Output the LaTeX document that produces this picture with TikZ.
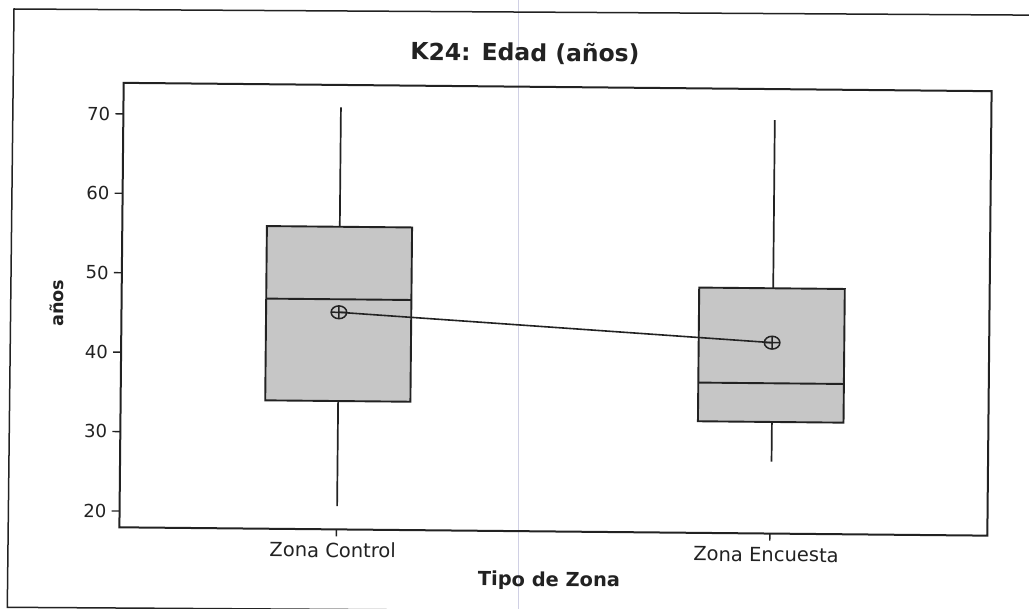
\documentclass[tikz,border=0pt]{standalone}
\usepackage{fontspec}
\setmainfont{DejaVu Sans}
\usetikzlibrary{calc}
\definecolor{boxgray}{RGB}{198,198,198}
\definecolor{ink}{RGB}{34,34,34}
\definecolor{scanline}{RGB}{208,208,228}
\begin{document}
\begin{tikzpicture}[x=1pt,y=-1pt,
  declare function={vy(\v)=674.1-7.944*\v;},
  frame/.style={draw=ink, line width=2pt},
  outerframe/.style={draw=ink, line width=1.5pt},
  whisk/.style={draw=ink, line width=1.7pt},
  boxsty/.style={draw=ink, fill=boxgray, line width=1.9pt},
  medsty/.style={draw=ink, line width=1.9pt},
  meanline/.style={draw=ink, line width=1.6pt},
  meanmk/.style={draw=ink, line width=1.5pt},
  ticksty/.style={draw=ink, line width=1.4pt},
  ticklab/.style={font=\fontsize{18}{20}\selectfont, text=ink, anchor=east, inner sep=0pt},
  catlab/.style={font=\fontsize{19.5}{22}\selectfont, text=ink, anchor=base, inner sep=0pt},
  axtitle/.style={font=\bfseries\fontsize{17.6}{20}\selectfont, text=ink, inner sep=0pt},
  maintitle/.style={font=\bfseries\fontsize{23.5}{26}\selectfont, text=ink, anchor=base, inner sep=0pt}]
\useasboundingbox (0,0) rectangle (1029,609);
\clip (0,0) rectangle (1029,609);
\fill[white] (0,0) rectangle (1029,609);
% faint scan fold
\draw[scanline, line width=1pt] (518.8,0) -- (518.8,609);
% outer frame (extends past the right and bottom edges)
\draw[outerframe] (1045,15.2) -- (14,9) -- (7.3,607.3) -- (1045,614);
\begin{scope}[rotate around={-0.55:(555.5,309.25)}, transform shape]
  % title
  \node[maintitle] (title) at (522.5,61.3) {K24: Edad (años)};
  % plot frame
  \draw[frame] (121.5,87) rectangle (989.5,531.5);
  % y ticks
  \foreach \v in {20,30,40,50,60,70} {
    \draw[ticksty] (113.5,{vy(\v)}) -- (121.5,{vy(\v)});
    \node[ticklab] (t\v) at (108.5,{vy(\v)}) {\v};
  }
  % x ticks
  \draw[ticksty] (338.5,531.5) -- (338.5,538.5);
  \draw[ticksty] (772,531.5) -- (772,538.5);
  \node[catlab] (c1) at (335,559.5) {Zona Control};
  \node[catlab] (c2) at (768.4,559.5) {Zona Encuesta};
  \node[axtitle, font=\bfseries\fontsize{19.4}{22}\selectfont, anchor=base] (xt) at (551.6,586.5) {Tipo de Zona};
  \node[axtitle, rotate=90] (yt) at (56.6,307.8) {años};
  % box 1: Zona Control
  \draw[whisk] (339,{vy(56.05)}) -- (339,{vy(71.08)});
  \draw[whisk] (339,{vy(34.11)}) -- (339,{vy(20.89)});
  \draw[boxsty] (266.1,{vy(56.05)}) rectangle (411.3,{vy(34.11)});
  \draw[medsty] (266.1,{vy(46.92)}) -- (411.3,{vy(46.92)});
  % box 2: Zona Encuesta
  \draw[whisk] (773,{vy(48.83)}) -- (773,{vy(70.0)});
  \draw[whisk] (773,{vy(32.0)}) -- (773,{vy(27.0)});
  \draw[boxsty] (699,{vy(48.83)}) rectangle (844.6,{vy(32.0)});
  \draw[medsty] (699,{vy(36.87)}) -- (844.6,{vy(36.87)});
  % means
  \coordinate (m1) at (339,{vy(45.28)});
  \coordinate (m2) at (772.5,{vy(41.98)});
  \draw[meanline] (m1) -- (m2);
  \foreach \m in {m1,m2} {
    \draw[meanmk] (\m) ellipse [x radius=7.8pt, y radius=6.4pt];
    \draw[meanmk] ($(\m)+(-7.8pt,0pt)$) -- ($(\m)+(7.8pt,0pt)$);
    \draw[meanmk] ($(\m)+(0pt,-6.4pt)$) -- ($(\m)+(0pt,6.4pt)$);
  }
\end{scope}
\end{tikzpicture}
\end{document}
